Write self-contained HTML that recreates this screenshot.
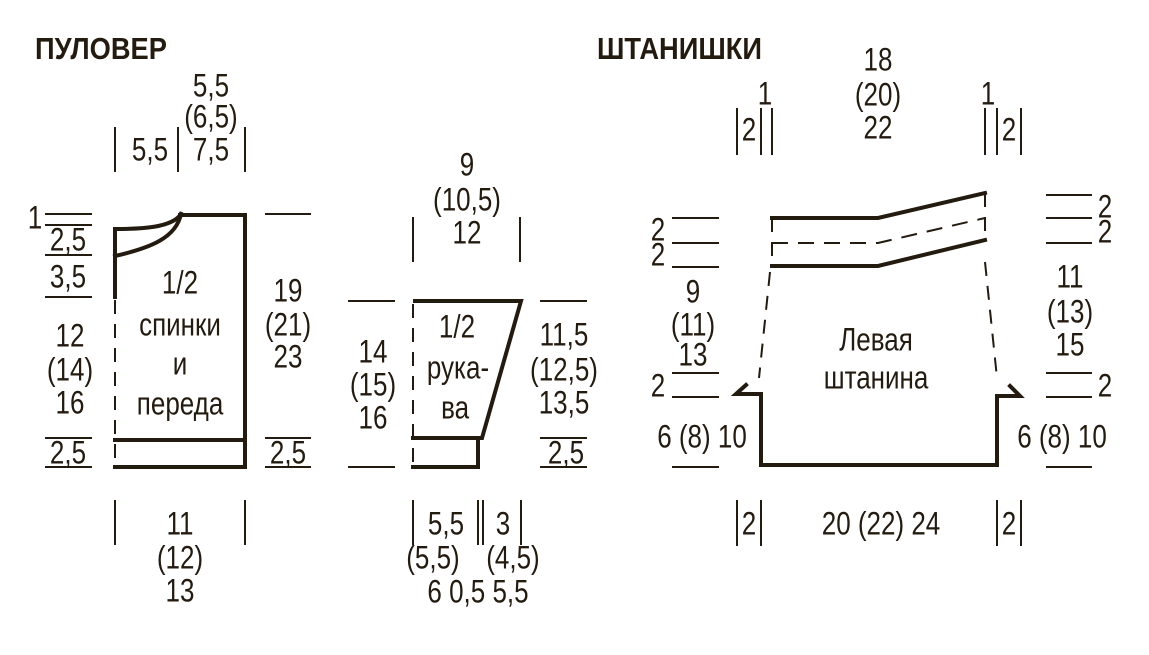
<!DOCTYPE html>
<html><head><meta charset="utf-8"><style>
html,body{margin:0;padding:0;background:#fff;}
svg{display:block}
text{font-family:"Liberation Sans Narrow","Liberation Sans",sans-serif;font-size:32.5px;fill:#231a10;text-anchor:middle;dominant-baseline:central;transform-box:fill-box;transform-origin:50% 50%;transform:scaleX(0.8)}
.t{font-weight:bold;font-size:31px;text-anchor:start;dominant-baseline:alphabetic;transform-origin:0 50%;transform:scaleX(0.88)}
.th{stroke:#231a10;stroke-width:4;fill:none;stroke-linecap:square;stroke-linejoin:miter}
.tn{stroke:#231a10;stroke-width:2;fill:none}
.ds{stroke:#231a10;stroke-width:2;fill:none;stroke-dasharray:14 10}
</style></head><body>
<svg width="1149" height="655" viewBox="0 0 1149 655">
<text class="t" x="35" y="59">ПУЛОВЕР</text>
<text class="t" x="597" y="59">ШТАНИШКИ</text>

<path class="th" d="M180,215 L245,215 L245,467 L115,467"/>
<path class="th" d="M115,440 L245,440"/>
<path class="th" d="M115,297 L115,229 C140,229 172,228 181,214"/>
<path class="th" d="M115,256 C150,248 176,238 181,214"/>
<path class="ds" d="M115,300 L115,467"/>
<g class="tn">
<path d="M45,214H92M45,225H92M45,255H92M45,297H92M45,438H92M45,467H92"/>
<path d="M265,214H311M265,438H311M265,467H311"/>
<path d="M115,127V172M178,127V172M245,127V172"/>
<path d="M115,500V545M245,500V545"/>
</g>
<text x="35" y="218">1</text>
<text x="68" y="240">2,5</text>
<text x="68" y="277">3,5</text>
<text x="70" y="336">12</text><text x="70" y="370">(14)</text><text x="70" y="403">16</text>
<text x="68" y="453">2,5</text>
<text x="288" y="291">19</text><text x="288" y="325">(21)</text><text x="288" y="357">23</text>
<text x="288" y="453">2,5</text>
<text x="150" y="150">5,5</text>
<text x="211" y="86">5,5</text><text x="211" y="117">(6,5)</text><text x="211" y="150">7,5</text>
<text x="180" y="524">11</text><text x="180" y="558">(12)</text><text x="180" y="591">13</text>
<text x="180" y="283">1/2</text><text x="180" y="325">спинки</text><text x="180" y="364">и</text><text x="180" y="404">переда</text>

<path class="th" d="M415,301 L521,301 L482,438 L413,438"/>
<path class="th" d="M478,438 L478,467 L413,467"/>
<path class="ds" d="M413,304 L413,467"/>
<g class="tn">
<path d="M413,217V262M520,217V262"/>
<path d="M348,301H395M348,467H395"/>
<path d="M540,301H587M540,438H587M540,467H587"/>
<path d="M413,500V545M478,500V545M483,500V545M521,500V545"/>
</g>
<text x="467" y="165">9</text><text x="467" y="200">(10,5)</text><text x="467" y="233">12</text>
<text x="373" y="352">14</text><text x="373" y="385">(15)</text><text x="373" y="418">16</text>
<text x="564" y="335">11,5</text><text x="564" y="370">(12,5)</text><text x="564" y="403">13,5</text>
<text x="566" y="453">2,5</text>
<text x="457" y="327">1/2</text><text x="458" y="368">рука-</text><text x="455" y="408">ва</text>
<text x="446" y="524">5,5</text><text x="503" y="524">3</text>
<text x="433" y="558">(5,5)</text><text x="513" y="558">(4,5)</text>
<text x="478" y="592">6  0,5  5,5</text>

<path class="th" d="M772,218 L878,218 L985,193"/>
<path class="th" d="M772,266 L878,266 L985,240"/>
<path class="ds" d="M772,243 L878,243 L985,218" style="stroke-dasharray:16 10"/>
<path class="tn" d="M772,218V266M985,193V240" style="stroke-dasharray:14 10"/>
<path class="ds" d="M770,272 L759,378"/>
<path class="ds" d="M985,262 L997,378"/>
<path class="th" d="M746,385 L736,394 L761,394 L761,465 L997,465 L997,396 L1020,396 L1010,386"/>
<g class="tn">
<path d="M672,218H719M672,243H719M672,267H719M672,373H719M672,397H719M672,467H719"/>
<path d="M1046,195H1092M1046,218H1092M1046,243H1092M1046,373H1092M1046,397H1092M1046,467H1092"/>
<path d="M737,108V155M761,108V155M772,108V155M985,108V155M997,108V155M1021,108V155"/>
<path d="M737,500V546M761,500V546M997,500V546M1021,500V546"/>
</g>
<text x="658" y="230">2</text><text x="658" y="255">2</text>
<text x="693" y="292">9</text><text x="693" y="325">(11)</text><text x="693" y="355">13</text>
<text x="658" y="386">2</text>
<text x="702" y="437">6 (8) 10</text>
<text x="1105" y="207">2</text><text x="1105" y="232">2</text>
<text x="1070" y="277">11</text><text x="1070" y="312">(13)</text><text x="1070" y="345">15</text>
<text x="1105" y="386">2</text>
<text x="1062" y="437">6 (8) 10</text>
<text x="765" y="94">1</text><text x="749" y="130">2</text>
<text x="878" y="60">18</text><text x="878" y="95">(20)</text><text x="878" y="128">22</text>
<text x="988" y="94">1</text><text x="1009" y="130">2</text>
<text x="749" y="524">2</text><text x="1009" y="524">2</text>
<text x="881" y="524">20 (22) 24</text>
<text x="876" y="340">Левая</text><text x="876" y="378">штанина</text>
</svg>
</body></html>
